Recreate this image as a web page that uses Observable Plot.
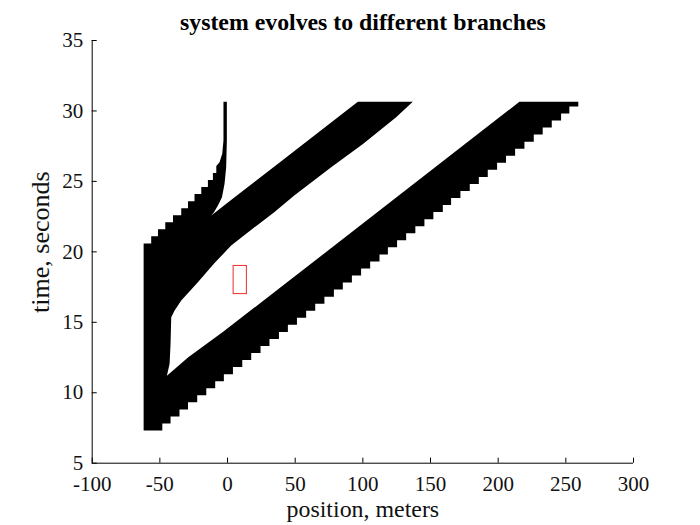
<!DOCTYPE html>
<html><head><meta charset="utf-8">
<script src="https://cdn.jsdelivr.net/npm/d3@7"></script>
<script src="https://cdn.jsdelivr.net/npm/@observablehq/plot@0.6"></script>
<style>body{margin:0;background:#fff}</style>
</head><body><div id="chart"></div>
<script>
const titleText = "system evolves to different branches";
const xLabel = "position, meters";
const yLabel = "time, seconds";
const xTicks = [-100, -50, 0, 50, 100, 150, 200, 250, 300];
const yTicks = [5, 10, 15, 20, 25, 30, 35];

// left column (rear of the queue)
const columnLeftX = -62.0;
const topTime = 30.65;

// lower branch front: staircase blocks (start time, front position)
const frontTimes = [7.32, 7.82, 8.32, 8.82, 9.32, 9.82, 10.32, 10.82, 11.32, 11.82, 12.32, 12.82,
  13.32, 13.82, 14.32, 14.82, 15.32, 15.82, 16.32, 16.82, 17.32, 17.82, 18.32, 18.82, 19.32, 19.82,
  20.32, 20.82, 21.32, 21.82, 22.32, 22.82, 23.32, 23.82, 24.32, 24.82, 25.32, 25.82, 26.32, 26.82,
  27.32, 27.82, 28.32, 28.82, 29.32, 29.82, 30.32];
const frontX = [-48.2, -42.1, -35.5, -29.2, -22.4, -15.7, -9.1, -2.7, 4.0, 10.9, 17.5, 24.4,
  31.0, 38.0, 44.6, 51.3, 58.1, 64.8, 71.6, 78.6, 85.2, 91.9, 98.7, 105.4, 112.3, 118.5,
  125.3, 132.0, 138.8, 145.5, 152.1, 159.1, 165.2, 172.1, 179.0, 185.7, 192.3, 199.2, 205.8, 212.5,
  219.4, 226.3, 232.9, 239.6, 246.5, 252.6, 259.2];

// lower branch rear edge, from top down to the tip of the gap  [x, t]
const lowerRear = [[215.7, 30.65], [42.6, 17.73], [-3.0, 14.35], [-29.0, 12.52], [-44.8, 11.2]];
// upper boundary of the gap (front of the upper branch), from the tip upwards
const gapUpper = [[-42.8, 12.05], [-42.1, 13.47], [-41.6, 15.36], [-39.1, 15.84], [-34.2, 16.55],
  [-21.9, 17.85], [-9.6, 19.2], [2.7, 20.45], [18.5, 21.64], [34.5, 22.81], [49.3, 24.0],
  [76.6, 26.0], [100.3, 27.67], [124.6, 29.56], [136.9, 30.65]];
// upper branch rear edge, from top down to the notch
const upperRear = [[96.3, 30.65], [40.4, 26.48], [3.8, 23.77], [-12.0, 22.58]];
// stopped branch (spike) edges
const spikeRight = [[-10.0, 22.81], [-7.1, 23.29], [-4.1, 23.88], [-2.2, 24.83], [-1.0, 26.0],
  [-0.5, 27.9], [-0.5, 30.65]];
const spikeLeft = [[-3.0, 30.65], [-3.0, 27.9], [-3.9, 26.96], [-5.9, 26.36]];
// rear staircase of the upper-left part (start time, rear position)
const stairTimes = [20.6, 21.1, 21.6, 22.1, 22.6, 23.1, 23.6, 24.1, 24.6, 25.1, 25.6];
const stairX = [-56.4, -51.4, -46.0, -40.3, -34.2, -29.2, -24.4, -19.4, -14.5, -10.8, -8.3];
const stairTop = 26.1;

// highlighted box
const boxX = [4.5, 14.3];
const boxT = [17.0, 19.0];

// build outline polygon from the arrays
const poly = [];
poly.push({x: columnLeftX, t: frontTimes[0]});
frontTimes.forEach((t, i) => {
  const tEnd = i + 1 < frontTimes.length ? frontTimes[i + 1] : topTime;
  poly.push({x: frontX[i], t});
  poly.push({x: frontX[i], t: tEnd});
});
for (const [x, t] of lowerRear) poly.push({x, t});
for (const [x, t] of gapUpper) poly.push({x, t});
for (const [x, t] of upperRear) poly.push({x, t});
for (const [x, t] of spikeRight) poly.push({x, t});
for (const [x, t] of spikeLeft) poly.push({x, t});
for (let i = stairTimes.length - 1; i >= 0; i--) {
  const tEnd = i + 1 < stairTimes.length ? stairTimes[i + 1] : stairTop;
  poly.push({x: stairX[i], t: tEnd});
  poly.push({x: stairX[i], t: stairTimes[i]});
}
poly.push({x: columnLeftX, t: stairTimes[0]});

const box = [{x1: boxX[0], x2: boxX[1], y1: boxT[0], y2: boxT[1]}];

const font = "Liberation Serif";
const chart = Plot.plot({
  width: 700,
  height: 525,
  marginLeft: 91.7,
  marginRight: 67,
  marginTop: 40,
  marginBottom: 62.3,
  style: {fontFamily: font, background: "white", color: "#000"},
  x: {domain: [-100, 300]},
  y: {domain: [5, 35]},
  marks: [
    Plot.line(poly, {x: "x", y: "t", fill: "black", stroke: "none", curve: "linear"}),
    Plot.rect(box, {x1: "x1", x2: "x2", y1: "y1", y2: "y2", fill: "none", stroke: "#ee2b2b", strokeWidth: 1}),
    Plot.ruleY([5], {stroke: "#000", strokeWidth: 1}),
    Plot.ruleX([-100], {stroke: "#000", strokeWidth: 1}),
    Plot.axisX({ticks: xTicks, tickSize: -5, tickPadding: 17.7, tickFormat: d => String(d), label: null, fontSize: 21, stroke: "#000", fill: "#111"}),
    Plot.axisY({ticks: yTicks, tickSize: -5, tickPadding: 14, tickFormat: d => String(d), label: null, fontSize: 21, stroke: "#000", fill: "#111"}),
    Plot.text([xLabel], {text: d => d, frameAnchor: "bottom", dy: 46, lineAnchor: "middle", textAnchor: "middle", fontSize: 23.9, fill: "#111"}),
    Plot.text([yLabel], {text: d => d, frameAnchor: "left", dx: -51.5, dy: -9.7, rotate: -90, lineAnchor: "middle", textAnchor: "middle", fontSize: 26, fill: "#111"}),
    Plot.text([titleText], {text: d => d, frameAnchor: "top", dy: -18, lineAnchor: "middle", textAnchor: "middle", fontSize: 23.8, fontWeight: "bold", fill: "#000"})
  ]
});
document.getElementById("chart").appendChild(chart);
</script>
</body></html>
